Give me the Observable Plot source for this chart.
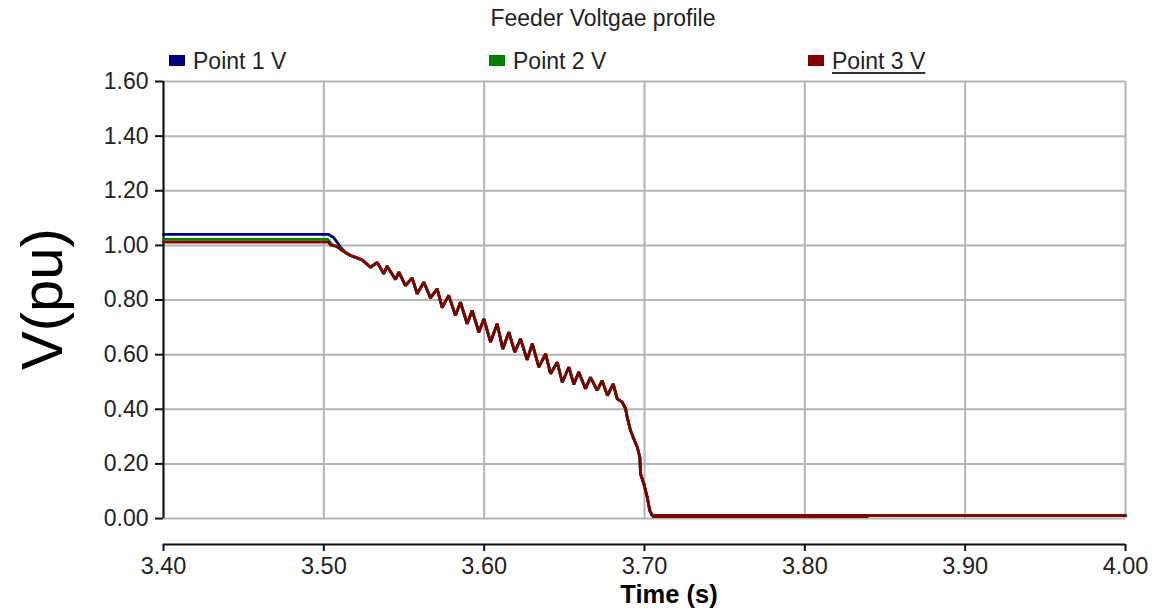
<!DOCTYPE html>
<html><head><meta charset="utf-8">
<script src="https://cdn.jsdelivr.net/npm/d3@7"></script>
<script src="https://cdn.jsdelivr.net/npm/@observablehq/plot@0.6"></script>
<style>
body{margin:0;background:#fff;font-family:"Liberation Sans",Arial,sans-serif;}
#wrap{position:relative;width:1155px;height:611px;overflow:hidden;background:#fff}
#wrap svg{position:absolute;left:0;top:0}
.ov{position:absolute;line-height:1;white-space:nowrap;color:#222}
.title{font-size:23px;left:603px;top:7px;transform:translateX(-50%)}
.leg{font-size:23px;top:50px}
.sw{position:absolute;width:16px;height:11px;top:55px}
.ylab{font-size:58px;color:#000;left:42px;top:299px;transform:translate(-50%,-50%) rotate(-90deg)}
.xlab{font-size:25.5px;font-weight:bold;color:#000;left:669px;top:582px;transform:translateX(-50%)}
.ul{text-decoration:underline;text-decoration-thickness:2px;text-underline-offset:3px;text-decoration-color:#333}
</style></head><body><div id="wrap"></div>
<script>
const chartTitle = "Feeder Voltgae profile";
const xLabel = "Time (s)";
const yLabel = "V(pu)";
const seriesNames = ["Point 1 V", "Point 2 V", "Point 3 V"];
const seriesColors = ["#000080", "#008000", "#800000"];
const xTicks = [3.40, 3.50, 3.60, 3.70, 3.80, 3.90, 4.00];
const yTicks = [0.00, 0.20, 0.40, 0.60, 0.80, 1.00, 1.20, 1.40, 1.60];
const xDomain = [3.40, 4.00];
const yDomain = [-0.095, 1.60];

// pre-disturbance parts (distinct per series)
const p1Time = [3.400, 3.503, 3.506, 3.508, 3.510];
const p1Volt = [1.040, 1.040, 1.029, 1.014, 0.996];
const p2Time = [3.400, 3.5025, 3.505, 3.510];
const p2Volt = [1.022, 1.022, 1.003, 0.990];
const p3Time = [3.400, 3.5000, 3.5029, 3.5042, 3.5079, 3.5104];
const p3Volt = [1.012, 1.012, 1.012, 1.001, 0.996, 0.985];

// merged trace after the disturbance (all three points coincide)
const commonTime = [3.5135,3.5166,3.5198,3.5239,3.5291,3.5333,3.5374,3.5395,3.5447,3.5468,3.5509,3.5551,3.5582,3.5624,3.5665,3.5707,3.5738,3.5779,3.5821,3.5852,3.5894,3.5925,3.5967,3.5998,3.6040,3.6081,3.6116,3.6154,3.6191,3.6227,3.6268,3.6300,3.6341,3.6383,3.6414,3.6456,3.6487,3.6528,3.6559,3.6590,3.6632,3.6663,3.6705,3.6736,3.6769,3.6805,3.6830,3.6861,3.6882,3.6892,3.6913,3.6933,3.6955,3.6971,3.6975,3.6996,3.7017,3.7033,3.7048,4.0000];
const commonVolt = [0.974,0.963,0.956,0.947,0.920,0.938,0.896,0.924,0.875,0.902,0.853,0.881,0.823,0.865,0.808,0.841,0.772,0.817,0.743,0.792,0.713,0.762,0.682,0.731,0.646,0.713,0.621,0.682,0.609,0.658,0.581,0.640,0.554,0.603,0.530,0.572,0.499,0.554,0.491,0.536,0.475,0.517,0.469,0.505,0.450,0.493,0.438,0.426,0.402,0.371,0.322,0.292,0.261,0.224,0.164,0.127,0.078,0.029,0.011,0.011];

// small high-frequency ripple band after collapse (envelope)
const rippleTime = [3.705, 3.840];
const rippleLow = [0.000, 0.000];
const rippleHigh = [0.013, 0.013];

const prefixes = [[p1Time, p1Volt], [p2Time, p2Volt], [p3Time, p3Volt]];
const rows = [];
prefixes.forEach(([ts, vs], i) => {
  ts.forEach((t, j) => rows.push({series: seriesNames[i], t, v: vs[j]}));
  commonTime.forEach((t, j) => rows.push({series: seriesNames[i], t, v: commonVolt[j]}));
});
const ripple = rippleTime.map((t, i) => ({t, lo: rippleLow[i], hi: rippleHigh[i]}));

const fontFamily = '"Liberation Sans", Arial, sans-serif';
const grid = {stroke: "#b4b4b4", strokeOpacity: 1, strokeWidth: 2};

const chart = Plot.plot({
  width: 1155, height: 611,
  marginLeft: 163, marginRight: 30, marginTop: 81, marginBottom: 67,
  x: {domain: xDomain, ticks: xTicks, tickFormat: d => d.toFixed(2), label: null},
  y: {domain: yDomain, ticks: yTicks, tickFormat: d => d.toFixed(2), label: null},
  color: {domain: seriesNames, range: seriesColors},
  style: {fontFamily, fontSize: "23px", color: "#222", background: "#fff", overflow: "visible"},
  marks: [
    Plot.gridX(xTicks, {...grid, y1: yTicks[0], y2: yTicks[yTicks.length - 1]}),
    Plot.gridY(yTicks, {...grid}),
    Plot.ruleX([xDomain[0]], {y1: yTicks[0], y2: yTicks[yTicks.length - 1], stroke: "#111", strokeWidth: 2}),
    Plot.ruleY([yDomain[0]], {stroke: "#111", strokeWidth: 2}),
    Plot.axisY(yTicks, {tickSize: 8, tickPadding: 7, stroke: "#111", strokeWidth: 2, fill: "#222", fontSize: 23, label: null, tickFormat: d => d.toFixed(2)}),
    Plot.axisX(xTicks, {tickSize: 7, tickPadding: 6, stroke: "#111", strokeWidth: 2, fill: "#222", fontSize: 23.5, label: null, tickFormat: d => d.toFixed(2)}),
    Plot.areaY(ripple, {x: "t", y1: "lo", y2: "hi", fill: seriesColors[2]}),
    Plot.line(rows, {x: "t", y: "v", z: "series", stroke: "series", strokeWidth: 2.8, strokeLinejoin: "miter"})
  ]
});

const wrap = document.getElementById("wrap");
wrap.appendChild(chart);

function ov(cls, text, style) {
  const d = document.createElement("div");
  d.className = "ov " + cls;
  d.textContent = text;
  if (style) Object.assign(d.style, style);
  wrap.appendChild(d);
  return d;
}
ov("title", chartTitle);
const legX = [193, 513, 832];
seriesNames.forEach((name, i) => {
  const sw = document.createElement("div");
  sw.className = "sw";
  sw.style.left = (legX[i] - 24) + "px";
  sw.style.background = seriesColors[i];
  wrap.appendChild(sw);
  ov("leg" + (i === 2 ? " ul" : ""), name, {left: legX[i] + "px"});
});
ov("ylab", yLabel);
ov("xlab", xLabel);
</script>
</body></html>
